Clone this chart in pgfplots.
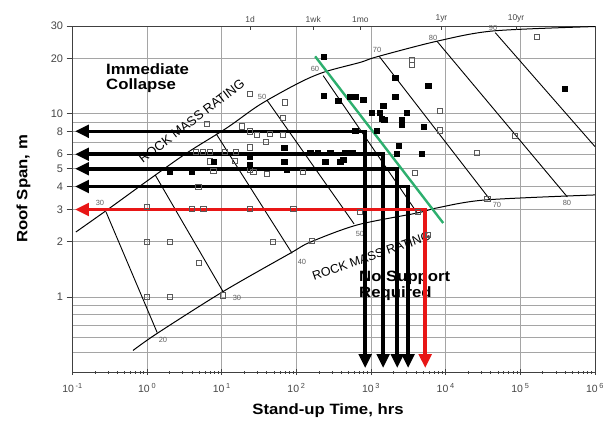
\documentclass[border=0pt]{standalone}
\usepackage{pgfplots}
\pgfplotsset{compat=1.18}
\usepackage{fontspec}
\setmainfont{Liberation Sans}
\newfontfamily\widefont[FakeStretch=1.12]{Liberation Sans}
\usetikzlibrary{arrows.meta}

\definecolor{gridgray}{RGB}{165,165,165}
\definecolor{ticktext}{RGB}{70,70,70}
\definecolor{rmrgray}{RGB}{95,95,95}
\definecolor{arrowred}{RGB}{232,22,22}
\definecolor{splitgreen}{RGB}{45,175,110}

\tikzset{bigarrow/.style={line width=3.6bp, {Triangle[length=14bp,width=12.5bp]}-{Triangle[length=14bp,width=12.5bp]}}}

\begin{document}
\begin{tikzpicture}
\useasboundingbox (0,0) rectangle (609bp,421bp);
\begin{axis}[
  at={(72.5bp,49bp)}, anchor=south west,
  width=522.5bp, height=346bp, scale only axis,
  xmode=log, ymode=log,
  xmin=0.1, xmax=1e6, ymin=0.39, ymax=30,
  xtick={0.1,1,10,100,1000,10000,100000,1000000},
  xticklabels={10\,\textsuperscript{-1},10\,\textsuperscript{0},10\,\textsuperscript{1},10\,\textsuperscript{2},10\,\textsuperscript{3},10\,\textsuperscript{4},10\,\textsuperscript{5},10\,\textsuperscript{6}},
  minor xtick={0.2,0.3,0.4,0.5,0.6,0.7,0.8,0.9,2,3,4,5,6,7,8,9,20,30,40,50,60,70,80,90,200,300,400,500,600,700,800,900,2000,3000,4000,5000,6000,7000,8000,9000,20000,30000,40000,50000,60000,70000,80000,90000,200000,300000,400000,500000,600000,700000,800000,900000},
  ytick={1,2,3,4,5,6,8,10,20,30},
  yticklabels={1,2,3,4,5,6,8,10,20,30},
  minor ytick={0.5,0.6,0.7,0.8,0.9,7,9},
  xmajorgrids, ymajorgrids, yminorgrids,
  grid style={gridgray, line width=0.8bp},
  minor grid style={gridgray, line width=0.8bp},
  axis line style={black!75, line width=0.9bp},
  xtick pos=lower, ytick pos=left,
  xtick align=center, ytick align=outside,
  x tick label style={font=\fontsize{10.5}{10.5}\selectfont, text=ticktext, yshift=-5bp},
  y tick label style={font=\fontsize{11}{11}\selectfont, text=ticktext},
  major tick length=6bp, minor tick length=3bp,
  tick style={black!75, line width=0.7bp},
  minor y tick style={draw=none},
  xlabel={\widefont\bfseries Stand-up Time, hrs},
  ylabel={\widefont\bfseries Roof Span, m},
  xlabel style={font=\fontsize{15}{15}\selectfont, at={(axis description cs:0.489,-0.113)}, anchor=center},
  ylabel style={font=\fontsize{15}{15}\selectfont, at={(axis description cs:-0.094,0.529)}, anchor=center},
]

% boundary of the immediate collapse zone
\addplot[black, line width=1bp, smooth] coordinates {
  (0.111,2.26) (0.318,3.06) (1.09,4.40) (3.43,6.11) (11.8,8.37) (32.6,11.2)
  (112,14.8) (243,16.9) (714,19.0) (1208,20.4) (7690,24.8) (43400,28.2) (1000000,29.8)};
% boundary of the no support zone
\addplot[black, line width=1bp, smooth] coordinates {
  (0.647,0.511) (1.36,0.633) (10.4,1.07) (82.4,1.73) (153,1.99) (652,2.47)
  (4150,2.87) (7690,3.06) (33800,3.38) (1000000,3.60)};

% rock mass rating contours
\addplot[black, line width=0.9bp] coordinates {(0.281,2.91) (1.36,0.641)};
\addplot[black, line width=0.9bp] coordinates {(1.28,4.63) (10.4,1.07)};
\addplot[black, line width=0.9bp] coordinates {(8.40,7.76) (87.5,1.73)};
\addplot[black, line width=0.9bp] coordinates {(40.5,11.8) (593,2.50)};
\addplot[black, line width=0.9bp] coordinates {(228,16.1) (4150,2.87)};
\addplot[black, line width=0.9bp] coordinates {(1285,20.5) (39500,3.38)};
\addplot[black, line width=0.9bp] coordinates {(7690,24.7) (426000,3.51)};
\addplot[black, line width=0.9bp] coordinates {(46100,27.6) (1000000,6.6)};

% contour values
\begin{scope}[every node/.style={font=\fontsize{7.5}{7.5}\selectfont, text=rmrgray}]
\node at (rel axis cs:0.0526,0.4884) {30};
\node at (rel axis cs:0.3627,0.7948) {50};
\node at (rel axis cs:0.4641,0.8757) {60};
\node at (rel axis cs:0.5828,0.9306) {70};
\node at (rel axis cs:0.6900,0.9653) {80};
\node at (rel axis cs:0.8048,0.9940) {90};
\node at (rel axis cs:0.1732,0.0925) {20};
\node at (rel axis cs:0.3148,0.2139) {30};
\node at (rel axis cs:0.4392,0.3179) {40};
\node at (rel axis cs:0.5502,0.3988) {50};
\node at (rel axis cs:0.8124,0.4827) {70};
\node at (rel axis cs:0.9464,0.4884) {80};
\end{scope}

% zone names
\node[anchor=north west, align=left, inner sep=0pt,
      font=\widefont\bfseries\fontsize{15}{16}\selectfont]
  at (rel axis cs:0.0641,0.893) {Immediate\\Collapse};
\node[anchor=north west, align=left, inner sep=0pt,
      font=\widefont\bfseries\fontsize{15}{16}\selectfont]
  at (rel axis cs:0.5483,0.292) {No Support\\Required};
\node[rotate=37.5, font=\fontsize{13}{13}\selectfont]
  at (rel axis cs:0.2278,0.7254) {ROCK MASS RATING};
\node[rotate=19, font=\fontsize{12.5}{12.5}\selectfont]
  at (rel axis cs:0.5722,0.3353) {ROCK MASS RATING};

% case histories: open squares
\addplot[only marks, mark=square, mark size=2.6bp, draw=black!65, mark options={line width=0.8bp}] coordinates {
  (3520,19.7) (3520,18.5) (8430,10.3) (8430,8.09) (26200,6.09) (85500,7.57)
  (167000,26.2) (3900,4.73) (36100,3.41)
  (23.9,12.8) (70.6,11.5) (65.8,9.46) (18.5,8.51) (23.9,7.99) (29.4,7.67)
  (44.4,7.74) (65.8,7.67) (39.3,6.99) (23.9,6.53) (6.97,5.48) (15.1,5.53)
  (23.9,4.93) (26.5,4.79) (40.1,4.67) (7.71,4.87) (4.85,4.0) (6.3,8.81)
  (4.53,6.19) (5.61,6.19) (6.97,6.19) (11.1,6.19) (15.6,6.19)
  (1,3.1) (3.96,3.01) (5.66,3.01) (23.9,3.01) (91.2,3.01)
  (1,2) (2,2) (48.3,2.0) (162,2.03) (4.97,1.53)
  (1,1) (2,1) (10.3,1.02)
  (714,2.91) (4290,2.91) (5820,2.18) (123,4.83)};
% case histories: filled squares
\addplot[only marks, mark=square*, mark size=2.6bp, black] coordinates {
  (230,20.4) (230,12.5) (362,11.7) (525,12.3) (612,12.3) (783,11.9)
  (2100,15.7) (5820,14.2) (2100,12.3) (1450,11.0) (1030,10.1) (1320,10.1)
  (1500,9.26) (1390,9.4) (3020,10.1) (2590,9.26) (2590,8.70) (5040,8.51)
  (612,8.09) (1200,8.09) (2330,6.70) (2220,6.04) (4800,6.04) (391000,13.6)
  (243,5.48) (385,5.48) (423,5.59) (68.4,6.48) (68.4,5.48) (74.3,4.93)
  (23.9,5.25) (23.9,5.81) (7.71,5.48) (2.03,4.83) (3.96,4.83)
  (153,6.11) (195,6.11) (283,6.11) (450,6.11) (558,6.11)};

% span / stand-up time read-offs
\addplot[black, bigarrow] coordinates {(0.108,8) (834,8) (834,0.41)};
\addplot[black, bigarrow] coordinates {(0.108,6) (1450,6) (1450,0.41)};
\addplot[black, bigarrow] coordinates {(0.108,5) (2240,5) (2240,0.41)};
\addplot[black, bigarrow] coordinates {(0.108,4) (3140,4) (3140,0.41)};
\addplot[arrowred, bigarrow] coordinates {(0.108,3) (5310,3) (5310,0.41)};

% limit line
\addplot[splitgreen, line width=2.4bp] coordinates {(178,20.5) (9250,2.53)};
\end{axis}

% time scale along the top edge
\begin{axis}[
  at={(72.5bp,49bp)}, anchor=south west,
  width=522.5bp, height=346bp, scale only axis,
  xmode=log, ymode=log, xmin=0.1, xmax=1e6, ymin=0.39, ymax=30,
  axis x line*=top, axis y line=none,
  axis line style={draw=none},
  xtick={24,168,720,8760,87600},
  xticklabels={1d,1wk,1mo,1yr,10yr},
  minor xtick={},
  xtick align=inside, major tick length=4bp,
  tick style={black!75, line width=0.7bp},
  x tick label style={font=\fontsize{8.5}{8.5}\selectfont, text=ticktext},
]
\addplot[draw=none] coordinates {(1,1)};
\end{axis}
\end{tikzpicture}
\end{document}
